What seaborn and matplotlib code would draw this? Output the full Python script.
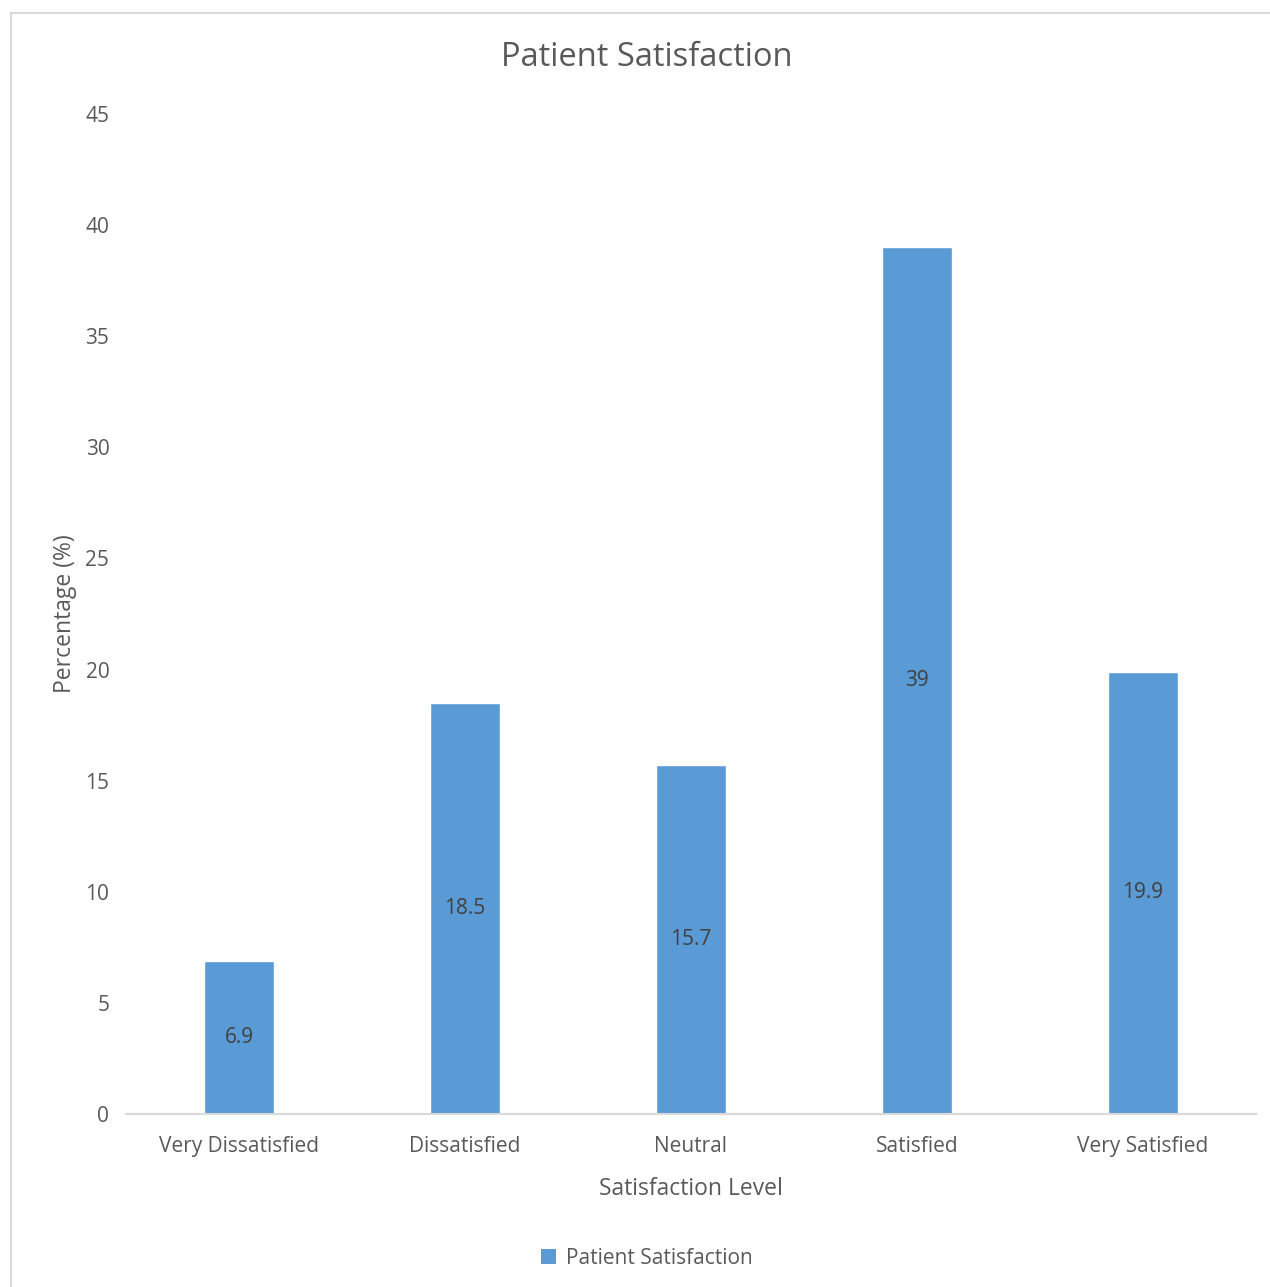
import matplotlib
matplotlib.use("Agg")
import matplotlib.pyplot as plt
from matplotlib.patches import Rectangle, Patch
import seaborn as sns
import pandas as pd

levels = ["Very Dissatisfied", "Dissatisfied", "Neutral", "Satisfied", "Very Satisfied"]
percentages = [6.9, 18.5, 15.7, 39, 19.9]
value_labels = ["6.9", "18.5", "15.7", "39", "19.9"]
y_ticks = [0, 5, 10, 15, 20, 25, 30, 35, 40, 45]

bar_color = "#5B9BD5"
text_color = "#595959"

sns.set_theme(style="white")
plt.rcParams["font.family"] = ["Open Sans", "DejaVu Sans"]

df = pd.DataFrame({"Satisfaction Level": levels, "Percentage": percentages})

W, H = 1270, 1287
fig = plt.figure(figsize=(W / 100, H / 100), dpi=100)
ax = fig.add_axes([126 / W, 1 - 1114 / H, (1256 - 126) / W, (1114 - 114) / H])

sns.barplot(data=df, x="Satisfaction Level", y="Percentage", color=bar_color,
            width=0.31, saturation=1, ax=ax)

ax.set_xlim(-0.5, 4.5)
ax.set_ylim(0, 45)
ax.set_yticks(y_ticks)
ax.set_yticklabels([str(t) for t in y_ticks])

for i, (v, lab) in enumerate(zip(percentages, value_labels)):
    ax.text(i, v / 2, lab, ha="center", va="center", fontsize=15, color="#404040")

for s in ["top", "right", "left"]:
    ax.spines[s].set_visible(False)
ax.spines["bottom"].set_color("#D9D9D9")
ax.spines["bottom"].set_linewidth(1.5)

ax.tick_params(axis="both", length=0, labelsize=15, labelcolor=text_color)
ax.tick_params(axis="y", pad=12)
ax.tick_params(axis="x", pad=16)

ax.set_xlabel("Satisfaction Level", fontsize=16.5, color=text_color, labelpad=14)
ax.set_ylabel("Percentage (%)", fontsize=16.5, color=text_color, labelpad=6)

fig.text(647 / W, 1 - 57 / H, "Patient Satisfaction", ha="center", va="center",
         fontsize=23.5, color=text_color)

handle = Patch(facecolor=bar_color, edgecolor="none", label="Patient Satisfaction")
fig.legend(handles=[handle], loc="center", bbox_to_anchor=(647 / W, 1 - 1258 / H),
           frameon=False, fontsize=15, handlelength=0.7, handleheight=0.7,
           handletextpad=0.5, labelcolor=text_color)

# chart-area border
fig.patches.append(Rectangle((10.5 / W, -0.1), 1.2, 1 - 12.5 / H + 0.1,
                             transform=fig.transFigure, fill=False,
                             edgecolor="#D9D9D9", linewidth=1.5))

fig.savefig("out.png", dpi=100, facecolor="white")
